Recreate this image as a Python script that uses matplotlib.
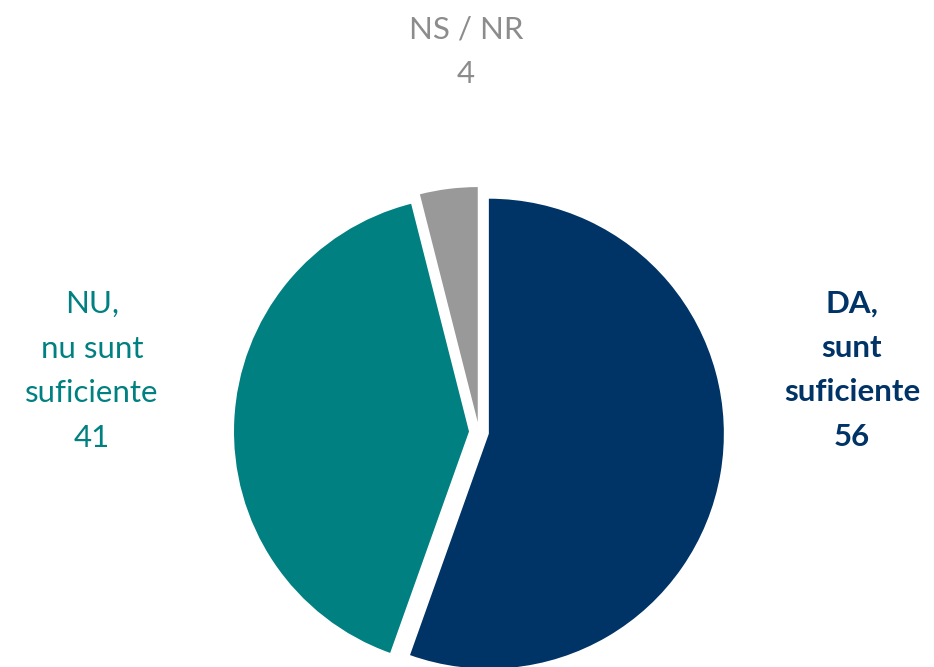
import matplotlib.pyplot as plt

# valeurs
labels = ["DA,\nsunt\nsuficiente", "NU,\nnu sunt\nsuficiente", "NS / NR"]
values = [56, 41, 4]
colors = ["#003366", "#008080", "#999999"]
text_colors = ["#003366", "#008080", "#8c8c8c"]

W, H = 934, 667

fig = plt.figure(figsize=(W / 100, H / 100), dpi=100)
ax = fig.add_axes([0, 0, 1, 1])

R = 235
cx, cy = 479, H - 432

# explode est en unités de données (pixels ici)
ax.pie(values, colors=colors, startangle=90, counterclock=False,
       radius=R, center=(cx, cy), explode=[10, 10, 10],
       wedgeprops=dict(linewidth=0), frame=True)
ax.set_xlim(0, W)
ax.set_ylim(0, H)
ax.set_aspect("equal")
ax.axis("off")

font = "Lato"
ax.text(852, H - 370, f"{labels[0]}\n{values[0]}", ha="center", va="center",
        fontsize=22.5, fontweight="bold", color=text_colors[0], family=font,
        linespacing=1.72)
ax.text(92, H - 371, f"{labels[1]}\n{values[1]}", ha="center", va="center",
        fontsize=22.5, color=text_colors[1], family=font, linespacing=1.72)
ax.text(466, H - 52, f"{labels[2]}\n{values[2]}", ha="center", va="center",
        fontsize=22.5, color=text_colors[2], family=font, linespacing=1.72)

plt.savefig("out.png", dpi=100)
